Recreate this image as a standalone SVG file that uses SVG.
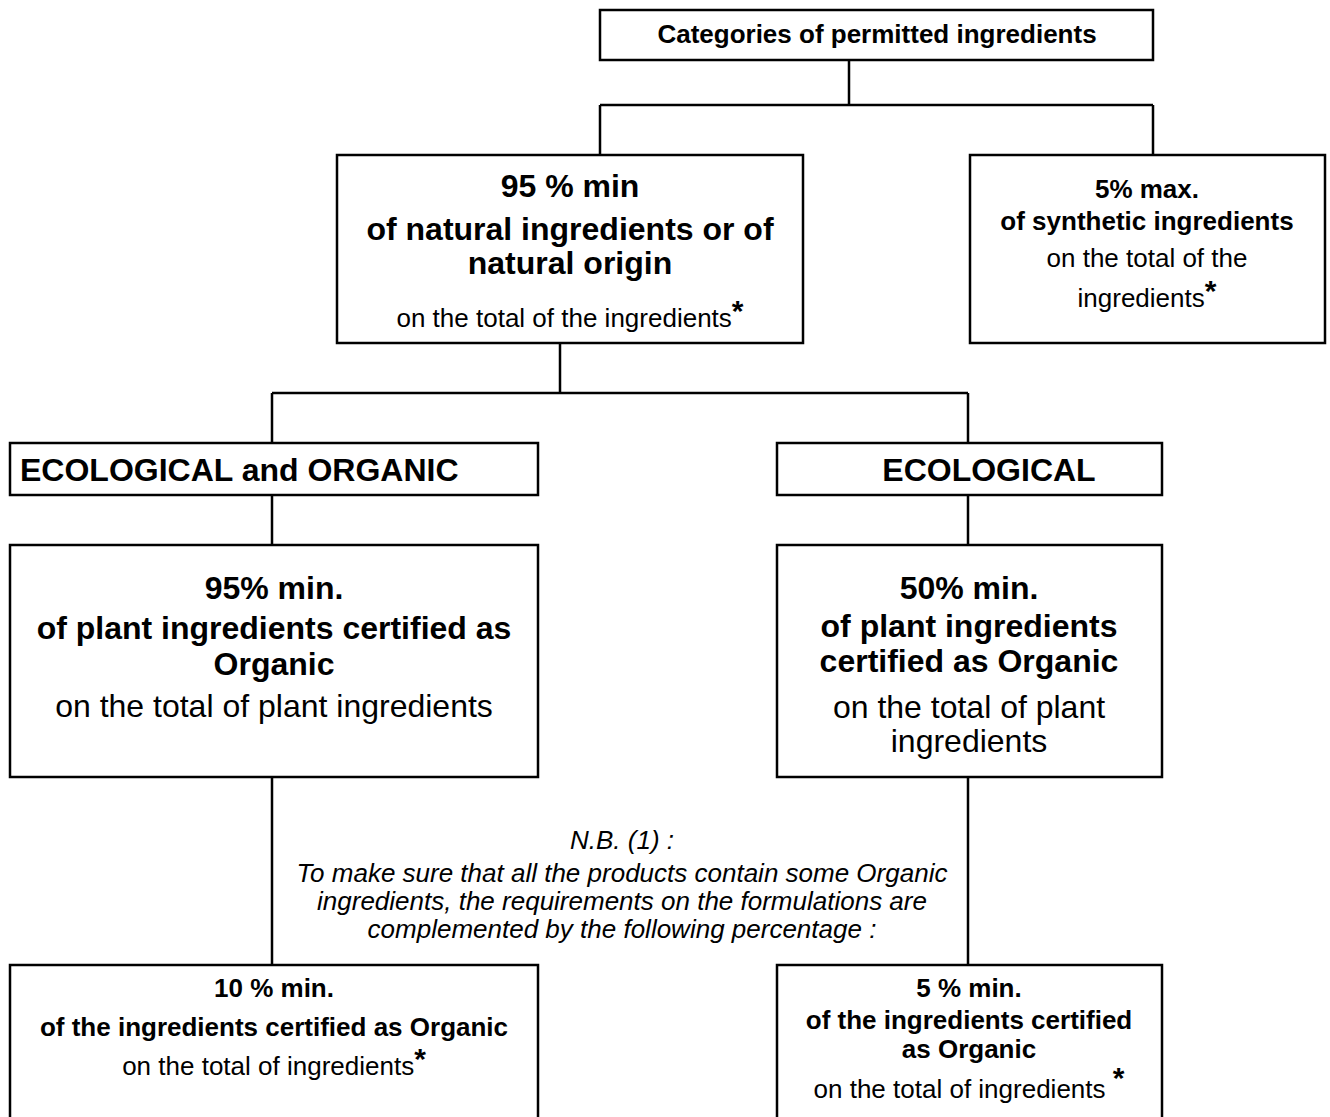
<svg xmlns="http://www.w3.org/2000/svg" width="1330" height="1117" viewBox="0 0 1330 1117">
<style>
.box{fill:#fff;stroke:#000;stroke-width:2.5}
.ln{fill:none;stroke:#000;stroke-width:2.5}
text{font-family:"Liberation Sans",Arial,sans-serif;fill:#000}
.c{text-anchor:middle}
.bb{font-size:32px;font-weight:bold}
.br{font-size:32px}
.sb{font-size:26px;font-weight:bold}
.sr{font-size:26px}
.it{font-size:26px;font-style:italic}
.st{font-weight:bold;font-size:30px}
</style>
<rect width="1330" height="1117" fill="#fff"/>
<g id="connectors">
<path class="ln" d="M849,60 V105 M600,105 H1153 M600,105 V155 M1153,105 V155"/>
<path class="ln" d="M560,343 V393 M272,393 H968 M272,393 V443 M968,393 V443"/>
<path class="ln" d="M272,495 V545 M968,495 V545"/>
<path class="ln" d="M272,777 V965 M968,777 V965"/>
</g>
<g id="n-top">
<rect class="box" x="600" y="10" width="553" height="50"/>
<text class="sb c" x="877" y="43">Categories of permitted ingredients</text>
</g>
<g id="n-natural">
<rect class="box" x="337" y="155" width="466" height="188"/>
<text class="bb c" x="570" y="197">95 % min</text>
<text class="bb c" x="570" y="240">of natural ingredients or of</text>
<text class="bb c" x="570" y="274">natural origin</text>
<text class="sr c" x="570" y="327">on the total of the ingredients<tspan class="st" dy="-6">*</tspan></text>
</g>
<g id="n-synthetic">
<rect class="box" x="970" y="155" width="355" height="188"/>
<text class="sb c" x="1147" y="198">5% max.</text>
<text class="sb c" x="1147" y="230">of synthetic ingredients</text>
<text class="sr c" x="1147" y="267">on the total of the</text>
<text class="sr c" x="1147" y="307">ingredients<tspan class="st" dy="-6">*</tspan></text>
</g>
<g id="n-ecoorg">
<rect class="box" x="10" y="443" width="528" height="52"/>
<text class="bb" x="20" y="481">ECOLOGICAL and ORGANIC</text>
</g>
<g id="n-eco">
<rect class="box" x="777" y="443" width="385" height="52"/>
<text class="bb c" x="989" y="481">ECOLOGICAL</text>
</g>
<g id="n-95plant">
<rect class="box" x="10" y="545" width="528" height="232"/>
<text class="bb c" x="274" y="599">95% min.</text>
<text class="bb c" x="274" y="639">of plant ingredients certified as</text>
<text class="bb c" x="274" y="675">Organic</text>
<text class="br c" x="274" y="717">on the total of plant ingredients</text>
</g>
<g id="n-50plant">
<rect class="box" x="777" y="545" width="385" height="232"/>
<text class="bb c" x="969" y="599">50% min.</text>
<text class="bb c" x="969" y="637">of plant ingredients</text>
<text class="bb c" x="969" y="672">certified as Organic</text>
<text class="br c" x="969" y="718">on the total of plant</text>
<text class="br c" x="969" y="752">ingredients</text>
</g>
<g id="nb">
<text class="it c" x="622" y="849">N.B. (1) :</text>
<text class="it c" x="622" y="882">To make sure that all the products contain some Organic</text>
<text class="it c" x="622" y="910">ingredients, the requirements on the formulations are</text>
<text class="it c" x="622" y="938">complemented by the following percentage :</text>
</g>
<g id="n-10">
<rect class="box" x="10" y="965" width="528" height="170"/>
<text class="sb c" x="274" y="997">10 % min.</text>
<text class="sb c" x="274" y="1036">of the ingredients certified as Organic</text>
<text class="sr c" x="274" y="1075">on the total of ingredients<tspan class="st" dy="-6">*</tspan></text>
</g>
<g id="n-5">
<rect class="box" x="777" y="965" width="385" height="170"/>
<text class="sb c" x="969" y="997">5 % min.</text>
<text class="sb c" x="969" y="1029">of the ingredients certified</text>
<text class="sb c" x="969" y="1058">as Organic</text>
<text class="sr c" x="969" y="1098">on the total of ingredients <tspan class="st" dy="-10">*</tspan></text>
</g>
</svg>
